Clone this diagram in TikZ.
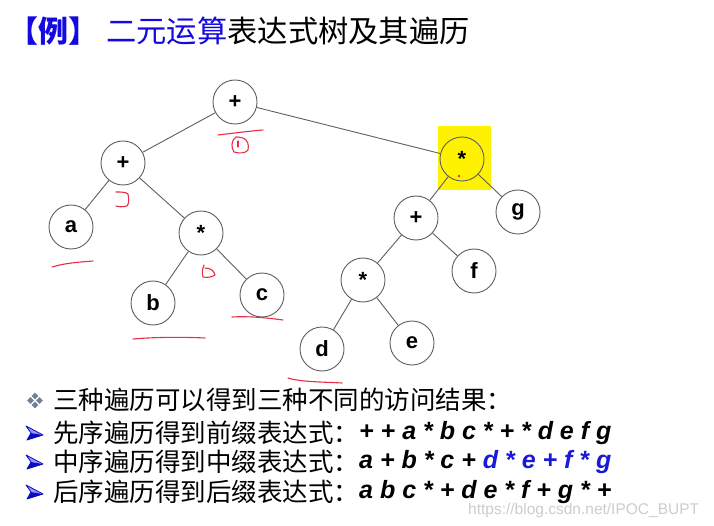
\documentclass[tikz,border=0pt]{standalone}
\usepackage{fontspec}
\setmainfont{Liberation Sans}
\newfontfamily\cjk{Noto Sans CJK SC}
\definecolor{edgegray}{RGB}{95,95,95}
\definecolor{hlyellow}{RGB}{255,242,0}
\definecolor{penred}{RGB}{232,45,70}
\definecolor{titleblue}{RGB}{20,10,225}
\definecolor{exprblue}{RGB}{25,25,215}
\definecolor{bulletgray}{RGB}{110,130,148}
\definecolor{arrowdark}{RGB}{10,10,190}
\definecolor{arrowlight}{RGB}{150,150,255}
\definecolor{wmgray}{RGB}{205,205,205}
\begin{document}
\begin{tikzpicture}[x=1pt,y=-1pt,
  treenode/.style={circle,draw=edgegray,line width=0.9pt,minimum size=44pt,inner sep=0pt,
    font=\fontsize{22}{22}\selectfont\bfseries},
  treeedge/.style={draw=edgegray,line width=0.9pt},
  pen/.style={draw=penred,line width=1.1pt,line cap=round,line join=round},
  cjktext/.style={anchor=west,inner sep=0pt,font=\cjk\fontsize{25.5}{25.5}\selectfont},
  expr/.style={anchor=west,inner sep=0pt,font=\fontsize{25}{25}\selectfont\bfseries\itshape},
  diam/.pic={\fill[bulletgray] (0,-3.4) -- (3.4,0) -- (0,3.4) -- (-3.4,0) -- cycle;},
  arrowbullet/.pic={
    \fill[arrowlight] (-8,-7) -- (9,2) -- (-3,0) -- cycle;
    \fill[arrowdark] (-3,0) -- (9,2) -- (-7,7) -- cycle;
    \draw[arrowdark,line width=0.8pt,line join=round] (-8,-7) -- (9,2) -- (-7,7) -- (-3,0) -- cycle;}]
\useasboundingbox (0,0) rectangle (714,526);
\fill[white] (0,0) rectangle (714,526);

% title
\node[anchor=west,inner sep=0pt,text=titleblue,font=\cjk\fontsize{30}{30}\selectfont\bfseries] (tag) at (8,31) {【例】};
\node[anchor=west,inner sep=0pt,font=\cjk\fontsize{30.3}{30.3}\selectfont] (title) at (106,31)
  {\textcolor{titleblue}{二元运算}表达式树及其遍历};

% highlight
\fill[hlyellow] (438,126) rectangle (491,190);

% tree nodes
\node[treenode] (r)  at (235,102) {+};
\node[treenode] (p1) at (123,163) {+};
\node[treenode] (a)  at (71,227)  {a};
\node[treenode] (m1) at (201,233) {*};
\node[treenode] (b)  at (153,303) {b};
\node[treenode] (c)  at (262,295) {c};
\node[treenode] (m2) at (462,159) {*};
\node[treenode] (g)  at (518,212) {g};
\node[treenode] (p2) at (416,218) {+};
\node[treenode] (f)  at (474,271) {f};
\node[treenode] (m3) at (363,280) {*};
\node[treenode] (d)  at (322,349) {d};
\node[treenode] (e)  at (412,343) {e};

% tree edges
\draw[treeedge] (r) -- (p1);
\draw[treeedge] (r) -- (m2);
\draw[treeedge] (p1) -- (a);
\draw[treeedge] (p1) -- (m1);
\draw[treeedge] (m1) -- (b);
\draw[treeedge] (m1) -- (c);
\draw[treeedge] (m2) -- (p2);
\draw[treeedge] (m2) -- (g);
\draw[treeedge] (p2) -- (m3);
\draw[treeedge] (p2) -- (f);
\draw[treeedge] (m3) -- (d);
\draw[treeedge] (m3) -- (e);

% red pen marks
\draw[pen] (218,135) .. controls (235,133) and (250,131) .. (263,130);
\draw[pen] (236,137) .. controls (231,140) and (231,148) .. (234,152)
  .. controls (240,154) and (246,153) .. (248,150)
  .. controls (249,145) and (248,140) .. (243,138)
  .. controls (240,137) and (238,137) .. (236,137);
\draw[pen] (238,141) -- (238,147);
\draw[pen] (116,192) .. controls (121,192) and (126,192) .. (128,194)
  .. controls (129,199) and (129,204) .. (127,206)
  .. controls (123,207) and (119,207) .. (116,206);
\draw[pen] (204,265) .. controls (202,270) and (202,274) .. (203,277)
  .. controls (207,278) and (212,277) .. (215,275)
  .. controls (214,271) and (211,268) .. (205,268);
\draw[pen] (52,267) .. controls (65,263) and (80,262) .. (93,261);
\draw[pen] (133,339) .. controls (155,337) and (185,337) .. (205,338);
\draw[pen] (232,317) .. controls (250,316) and (268,318) .. (283,320);
\draw[pen] (288,378) .. controls (300,382) and (325,382) .. (342,383);
\fill[penred] (459,176) circle (1.3);

% bullets
\pic at (35,396) {diam};
\pic at (35,405) {diam};
\pic at (30.5,400.5) {diam};
\pic at (39.5,400.5) {diam};
\pic at (34,433) {arrowbullet};
\pic at (34,462) {arrowbullet};
\pic at (34,492) {arrowbullet};

% text lines
\node[cjktext] (t1) at (53,400) {三种遍历可以得到三种不同的访问结果：};
\node[cjktext] (t2) at (53,433) {先序遍历得到前缀表达式：};
\node[expr] (x2) at (359,433) {+ + a * b c * + * d e f g};
\node[cjktext] (t3) at (53,462) {中序遍历得到中缀表达式：};
\node[expr] (x3) at (359,462) {a + b * c + \textcolor{exprblue}{d * e + f * g}};
\node[cjktext] (t4) at (53,492) {后序遍历得到后缀表达式：};
\node[expr] (x4) at (359,492) {a b c * + d e * f + g * +};

% watermark
\node[anchor=west,inner sep=0pt,text=wmgray,font=\fontsize{15.5}{15.5}\selectfont] (wm) at (468,510) {https://blog.csdn.net/IPOC\_BUPT};
\end{tikzpicture}
\end{document}
